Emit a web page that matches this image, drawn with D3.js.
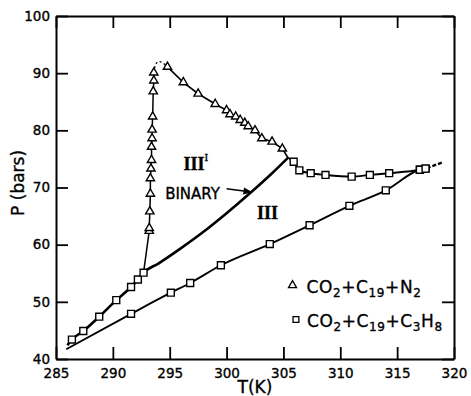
<!DOCTYPE html>
<html>
<head>
<meta charset="utf-8">
<script src="https://cdn.jsdelivr.net/npm/d3@7"></script>
<style>
  body { margin: 0; background: #fff; }
  svg text { font-family: "DejaVu Sans", sans-serif; fill: #000; stroke: #000; stroke-width: 0.35px; }
</style>
</head>
<body>
<div id="chart"></div>
<script>
// axis ticks
var xTicks = [285, 290, 295, 300, 305, 310, 315, 320];
var yTicks = [40, 50, 60, 70, 80, 90, 100];

// CO2 + C19 + N2 (triangles): rising branch, then falling branch
var n2RiseT = [293.2, 293.2, 293.25, 293.3, 293.3, 293.35, 293.4, 293.4, 293.45, 293.45, 293.5, 293.55, 293.6, 293.6];
var n2RiseP = [62.4, 62.9, 65.8, 68.9, 71.6, 73.3, 74.8, 77.1, 78.6, 80.1, 82.4, 86.8, 88.7, 90.1];
var n2FallT = [294.8, 296.2, 297.5, 299.0, 300.0, 300.3, 300.8, 301.2, 301.6, 301.9, 302.5, 303.1, 304.0, 304.9];
var n2FallP = [91.1, 88.4, 86.4, 84.6, 83.5, 82.8, 82.4, 81.8, 81.3, 80.7, 80.0, 78.6, 78.0, 76.8];
// dotted cap over the maximum
var n2CapT = [293.6, 293.75, 294.2, 294.8];
var n2CapP = [90.1, 91.9, 92.2, 91.1];

// CO2 + C19 + C3H8 (squares)
var lowLeftT = [286.4, 287.4, 288.8, 290.3, 291.6, 292.2, 292.7];
var lowLeftP = [43.4, 44.9, 47.4, 50.3, 52.6, 53.9, 55.1];
var highRightT = [305.9, 306.4, 307.4, 308.7, 311.0, 312.6, 314.3, 317.0, 317.5];
var highRightP = [74.5, 73.0, 72.5, 72.2, 71.9, 72.2, 72.5, 73.1, 73.3];
var lowerT = [291.6, 295.1, 296.8, 299.5, 303.8, 307.3, 310.8, 314.0, 317.0, 317.5];
var lowerP = [47.9, 51.6, 53.3, 56.4, 60.1, 63.4, 66.8, 69.5, 73.1, 73.3];

// binary curve beyond the last square, up to the junction
var binaryT = [294.0, 296.0, 298.0, 300.0, 302.0, 304.0, 305.4];
var binaryP = [56.7, 59.4, 62.3, 65.5, 68.9, 72.5, 75.2];

// curve ends without markers
var junction = [305.4, 75.2];
var upperStart = [286.0, 42.4];
var lowerStart = [285.9, 41.7];
var extension = [[317.6, 73.4], [319.0, 74.4]];

var zip = function (ts, ps) { return ts.map(function (t, i) { return [t, ps[i]]; }); };

var margin = { top: 16, right: 17, bottom: 37, left: 56 },
  width = 471 - margin.left - margin.right,
  height = 396 - margin.top - margin.bottom;

var x = d3.scaleLinear().domain([285, 320]).range([0, width]);
var y = d3.scaleLinear().domain([40, 100]).range([height, 0]);

var svg = d3.select("#chart").append("svg")
  .attr("width", width + margin.left + margin.right)
  .attr("height", height + margin.top + margin.bottom)
  .append("g")
  .attr("transform", "translate(" + margin.left + "," + margin.top + ")");

var defs = svg.append("defs");
defs.append("marker")
  .attr("id", "arrow")
  .attr("viewBox", "0 0 10 10")
  .attr("refX", 9).attr("refY", 5)
  .attr("markerWidth", 7).attr("markerHeight", 6)
  .attr("orient", "auto")
  .append("path").attr("d", "M0,1L10,5L0,9Z").attr("fill", "#000");

// frame with inward ticks on all four sides
function styleAxis(g) {
  g.select(".domain").attr("stroke", "#000").attr("stroke-width", 2);
  g.selectAll(".tick line").attr("stroke", "#000").attr("stroke-width", 1.8);
  g.selectAll(".tick text").style("font-size", "13.5px").attr("fill", "#000");
}

svg.append("g")
  .attr("transform", "translate(0," + height + ")")
  .call(d3.axisBottom(x).tickValues(xTicks).tickSize(-12).tickSizeOuter(0).tickPadding(9))
  .call(styleAxis);
svg.append("g")
  .call(d3.axisLeft(y).tickValues(yTicks).tickSize(-12).tickSizeOuter(0).tickPadding(6))
  .call(styleAxis);
svg.append("g")
  .call(d3.axisTop(x).tickValues(xTicks).tickSize(-12).tickSizeOuter(0).tickFormat(""))
  .call(styleAxis);
svg.append("g")
  .attr("transform", "translate(" + width + ",0)")
  .call(d3.axisRight(y).tickValues(yTicks).tickSize(-12).tickSizeOuter(0).tickFormat(""))
  .call(styleAxis);

var line = d3.line()
  .x(function (d) { return x(d[0]); })
  .y(function (d) { return y(d[1]); });
var smooth = d3.line()
  .x(function (d) { return x(d[0]); })
  .y(function (d) { return y(d[1]); })
  .curve(d3.curveMonotoneX);

function drawPath(pts, gen, w, dash) {
  return svg.append("path")
    .datum(pts)
    .attr("d", gen)
    .attr("fill", "none")
    .attr("stroke", "#000")
    .attr("stroke-width", w)
    .attr("stroke-dasharray", dash || null);
}

// binary line through the low-temperature squares
drawPath([upperStart].concat(zip(lowLeftT, lowLeftP), zip(binaryT, binaryP)), smooth, 2.6);
// lower three-phase line
drawPath([lowerStart].concat(zip(lowerT, lowerP)), smooth, 1.9);
// upper right squares
drawPath([junction].concat(zip(highRightT, highRightP)), smooth, 1.9);
drawPath(extension, line, 2.4, "4,2");
// N2 branches
drawPath([[lowLeftT[6], lowLeftP[6]]].concat(zip(n2RiseT, n2RiseP)), line, 1.5);
drawPath(zip(n2CapT, n2CapP), d3.line().x(function (d) { return x(d[0]); }).y(function (d) { return y(d[1]); }).curve(d3.curveBasis), 1.3, "2,2.5");
drawPath(zip(n2FallT, n2FallP).concat([junction]), line, 1.6);

var tri = d3.symbol().type(d3.symbolTriangle).size(30);
var sq = d3.symbol().type(d3.symbolSquare).size(48);

function drawMarks(pts, sym) {
  svg.append("g").selectAll("path")
    .data(pts)
    .enter().append("path")
    .attr("d", sym)
    .attr("transform", function (d) { return "translate(" + x(d[0]) + "," + y(d[1]) + ")"; })
    .attr("fill", "#fff")
    .attr("stroke", "#000")
    .attr("stroke-width", 1.4);
}

drawMarks(zip(lowLeftT, lowLeftP), sq);
drawMarks(zip(lowerT, lowerP), sq);
drawMarks(zip(highRightT, highRightP), sq);
drawMarks(zip(n2RiseT, n2RiseP), tri);
drawMarks(zip(n2FallT, n2FallP), tri);

// region labels
svg.append("text")
  .attr("x", x(297.3)).attr("y", y(73))
  .attr("text-anchor", "middle")
  .style("font-family", "Liberation Serif, serif").style("font-weight", "bold").style("font-size", "18px")
  .text("III")
  .append("tspan").attr("dy", -9).style("font-size", "11px").style("font-weight", "normal").text("I");
svg.append("text")
  .attr("x", x(303.6)).attr("y", y(64.5))
  .attr("text-anchor", "middle")
  .style("font-family", "Liberation Serif, serif").style("font-weight", "bold").style("font-size", "18px")
  .text("III");

// BINARY annotation
svg.append("text")
  .attr("x", x(294.6)).attr("y", y(68.0))
  .style("font-size", "15px")
  .text("BINARY");
svg.append("line")
  .attr("x1", x(300.0)).attr("y1", y(69.8))
  .attr("x2", x(302.2)).attr("y2", y(69.2))
  .attr("stroke", "#000").attr("stroke-width", 1.5)
  .attr("marker-end", "url(#arrow)");

// legend
var legend = [
  { sym: d3.symbol().type(d3.symbolTriangle).size(28), T: 305.8, P: 52.9, gap: 14,
    parts: [["CO", 0], ["2", 1], ["+C", 0], ["19", 1], ["+N", 0], ["2", 1]] },
  { sym: d3.symbol().type(d3.symbolSquare).size(34), T: 306.1, P: 46.9, gap: 11,
    parts: [["CO", 0], ["2", 1], ["+C", 0], ["19", 1], ["+C", 0], ["3", 1], ["H", 0], ["8", 1]] }
];
legend.forEach(function (l) {
  svg.append("path")
    .attr("d", l.sym)
    .attr("transform", "translate(" + x(l.T) + "," + y(l.P) + ")")
    .attr("fill", "#fff").attr("stroke", "#000").attr("stroke-width", 1.3);
  var t = svg.append("text")
    .attr("x", x(l.T) + l.gap).attr("y", y(l.P) + 7.5)
    .style("font-size", "17px")
    .style("letter-spacing", "0.6px");
  var prevSub = 0;
  l.parts.forEach(function (p) {
    t.append("tspan")
      .attr("dy", (p[1] - prevSub) * 4)
      .style("font-size", p[1] ? "12px" : "17px")
      .text(p[0]);
    prevSub = p[1];
  });
});

// axis titles
svg.append("text")
  .attr("x", x(302.5)).attr("y", height + 34)
  .attr("text-anchor", "middle")
  .style("font-size", "17px")
  .text("T(K)");
svg.append("text")
  .attr("transform", "translate(" + (-32) + "," + y(70.8) + ")rotate(-90)")
  .attr("text-anchor", "middle")
  .style("font-size", "17px")
  .text("P (bars)");
</script>
</body>
</html>
